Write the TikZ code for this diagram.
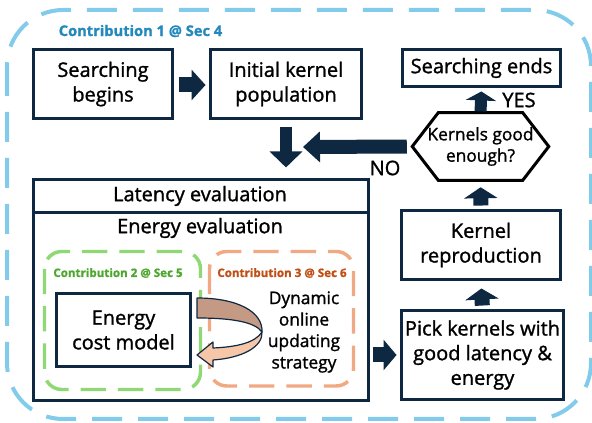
\documentclass[tikz,border=0pt]{standalone}
\usepackage{fontspec}
\setmainfont{Open Sans}[RawFeature={embolden=1.3}]
\usetikzlibrary{arrows.meta,calc}
\definecolor{navy}{HTML}{0E2841}
\definecolor{cblue}{HTML}{83CBEB}
\definecolor{cbluetext}{HTML}{2488BD}
\definecolor{cgreen}{HTML}{8ED973}
\definecolor{cgreentext}{HTML}{4EA72E}
\definecolor{corange}{HTML}{F1A983}
\definecolor{corangetext}{HTML}{C04F15}
\definecolor{cbrown}{HTML}{C49A84}
\definecolor{cpeach}{HTML}{F6C6A8}
\tikzset{
  box/.style={draw=navy, line width=2.25pt, align=center, inner sep=0pt,
    font=\fontsize{15pt}{18.5pt}\selectfont},
  plain/.style={align=center, inner sep=0pt, font=\fontsize{15pt}{18.5pt}\selectfont},
  blockarrow/.style={draw=navy, line cap=butt},
}
\begin{document}
\begin{tikzpicture}[x=0.75pt,y=-0.75pt]
\useasboundingbox (0,0) rectangle (592,423);
% outer contribution 1 frame
\draw[cblue, line width=3pt, dash pattern=on 22.5pt off 12pt, rounded corners=42pt]
  (7,10) rectangle (591,419);
\node[font=\bfseries\fontsize{11pt}{13pt}\selectfont, text=cbluetext, inner sep=0pt] (c1) at (140.5,31) {Contribution 1 @ Sec 4};

% top row
\node[box, minimum width=104.25pt, minimum height=51.75pt] (begin) at (103,84) {Searching\\begins};
\node[box, minimum width=113.25pt, minimum height=51.75pt] (init) at (286,84) {Initial kernel\\population};
\node[box, minimum width=118.5pt, minimum height=27.75pt] (ends) at (481.5,68) {Searching ends};

% hexagon
\node[inner sep=0pt, minimum width=102pt, minimum height=50.25pt, align=center,
  font=\fontsize{13pt}{16pt}\selectfont] (hex) at (480.5,146.5) {Kernels good\\enough?};
\draw[black, line width=2.25pt, line join=miter]
  (hex.west) -- ($(hex.north west)+(26,0)$) -- ($(hex.north east)+(-26,0)$) -- (hex.east)
  -- ($(hex.south east)+(-26,0)$) -- ($(hex.south west)+(26,0)$) -- cycle;

% right column
\node[box, minimum width=119.25pt, minimum height=51.75pt] (repro) at (481,245) {Kernel\\reproduction};
\node[box, minimum width=121.5pt, minimum height=66.75pt] (pick) at (482.5,355) {Pick kernels with\\good latency \&\\energy};

% big evaluation box
\node[draw=navy, line width=2.25pt, minimum width=251.25pt, minimum height=165.75pt, inner sep=0pt] (big) at (201,290) {};
\draw[navy, line width=2.25pt] (big.west |- 0,213) coordinate (divl) -- (big.east |- 0,213) coordinate (divr);
\node[plain] (lat) at (200,196) {Latency evaluation};
\node[plain] (ene) at (200,228) {Energy evaluation};

% contribution 2 and 3 frames
\draw[cgreen, line width=2.6pt, dash pattern=on 19pt off 9pt, rounded corners=13pt]
  (44.5,251.5) rectangle (200.5,389.5);
\node[font=\bfseries\fontsize{8.7pt}{10pt}\selectfont, text=cgreentext, inner sep=0pt] (c2) at (118,273) {Contribution 2 @ Sec 5};
\draw[corange, line width=2.6pt, dash pattern=on 19pt off 9pt, rounded corners=13pt]
  (209.5,251.5) rectangle (353.5,386);
\node[font=\bfseries\fontsize{8.7pt}{10pt}\selectfont, text=corangetext, inner sep=0pt] (c3) at (282,273) {Contribution 3 @ Sec 6};

\node[box, fill=white, minimum width=100.5pt, minimum height=54.75pt] (ecm) at (123.5,330) {Energy\\cost model};
\node[align=center, inner sep=0pt, font=\fontsize{13pt}{16.1pt}\selectfont] (dyn) at (304,332) {Dynamic\\online\\updating\\strategy};

% curved arrow between cost model and update strategy
\filldraw[fill=cbrown, draw=navy, line width=0.9pt, line join=round]
  (197,298) .. controls (238,298) and (263,312) .. (262,332)
  .. controls (255,322) and (232,318) .. (197,318) -- cycle;
\filldraw[fill=cpeach, draw=navy, line width=0.9pt, line join=round]
  (262,332) .. controls (263,347) and (242,358) .. (213,360)
  -- (213,367) -- (197,355) -- (213,342) -- (213,348)
  .. controls (236,347) and (255,343) .. (262,332) -- cycle;

% block arrows
\draw[blockarrow, line width=11.25pt, shorten <=3.9pt, shorten >=2.6pt,
  -{Triangle[length=10.5pt, width=22.5pt]}] (begin.east |- 0,85) -- (init.west |- 0,85);
\coordinate (initdown) at (init.south |- big.north);
\draw[blockarrow, line width=9.5pt, shorten <=4.9pt, shorten >=7.9pt,
  -{Triangle[length=12pt, width=24pt]}] (init.south) -- (initdown);
\coordinate (noend) at (303,147);
\draw[blockarrow, line width=10.5pt, shorten <=4.1pt,
  -{Triangle[length=12.75pt, width=22.5pt]}] (hex.west) -- (noend);
\draw[blockarrow, line width=9pt, shorten <=1pt, shorten >=2.6pt,
  -{Triangle[length=6.75pt, width=22.5pt]}] (hex.north) -- (ends.south);
\draw[blockarrow, line width=11.25pt, shorten <=2.6pt, shorten >=5.25pt,
  -{Triangle[length=8.25pt, width=24.75pt]}] (repro.north) -- (hex.south);
\draw[blockarrow, line width=11.25pt, shorten <=2.6pt, shorten >=5.6pt,
  -{Triangle[length=8.25pt, width=24.75pt]}] (pick.north) -- (repro.south);
\draw[blockarrow, line width=11.25pt, shorten <=1.9pt, shorten >=2.6pt,
  -{Triangle[length=9.75pt, width=22.5pt]}] (big.east |- pick.west) -- (pick.west);

% labels
\node[plain] (yes) at (519,100) {YES};
\node[plain] (no) at (385,168) {NO};
\end{tikzpicture}
\end{document}
